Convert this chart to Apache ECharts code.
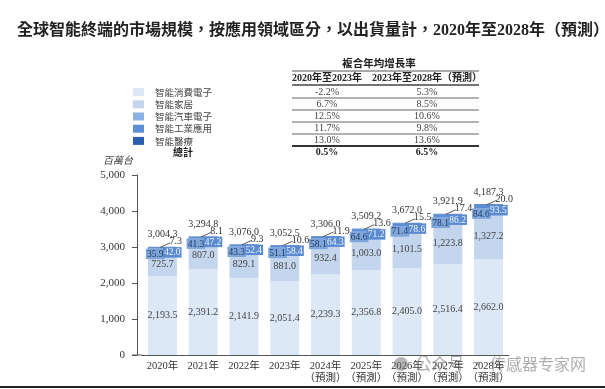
<!DOCTYPE html>
<html>
<head>
<meta charset="utf-8">
<script src="https://cdn.jsdelivr.net/npm/echarts@6/dist/echarts.min.js"></script>
<style>
html,body{margin:0;padding:0;background:#fff;}
#chart{width:605px;height:389px;}
</style>
</head>
<body>
<div id="chart"></div>
<script>
// ---- data ----
const categories = ['2020年','2021年','2022年','2023年','2024年\n（預測）','2025年\n（預測）','2026年\n（預測）','2027年\n（預測）','2028年\n（預測）'];
const seriesNames = ['智能消費電子','智能家居','智能汽車電子','智能工業應用','智能醫療'];
const consumer   = [2193.5, 2391.2, 2141.9, 2051.4, 2239.3, 2356.8, 2405.0, 2516.4, 2662.0];
const home       = [725.7, 807.0, 829.1, 881.0, 932.4, 1003.0, 1101.5, 1223.8, 1327.2];
const auto       = [35.9, 41.3, 43.3, 51.1, 58.1, 64.6, 71.4, 78.1, 84.6];
const industrial = [42.0, 47.2, 52.4, 58.4, 64.3, 71.2, 78.6, 86.2, 93.5];
const medical    = [7.3, 8.1, 9.3, 10.6, 11.9, 13.6, 15.5, 17.4, 20.0];
const totals     = [3004.3, 3294.8, 3076.0, 3052.5, 3306.0, 3509.2, 3672.0, 3921.9, 4187.3];
const cagrA      = ['-2.2%','6.7%','12.5%','11.7%','13.0%'];
const cagrB      = ['5.3%','8.5%','10.6%','9.8%','13.6%'];
const cagrTotalA = '0.5%';
const cagrTotalB = '6.5%';
const yTicks     = [0, 1000, 2000, 3000, 4000, 5000];

// ---- style ----
const colors = ['#dde8f6', '#c3d6ee', '#8cb2e3', '#5b8ed4', '#2c5fb0'];
const NUM = '"Liberation Serif", "Noto Sans CJK TC", serif';
const CJK = '"Noto Sans CJK TC", sans-serif';
const fmt = v => v.toLocaleString('en-US', {minimumFractionDigits: 1, maximumFractionDigits: 1});

const chart = echarts.init(document.getElementById('chart'), null, {renderer: 'canvas'});

// table graphics
const g = [];
function txt(x, y, s, opt) {
  opt = opt || {};
  g.push({type: 'text', x: x, y: y, silent: true, z: opt.z || 1, style: {
    text: s, fill: opt.fill || '#333', font: opt.font || ('10px ' + NUM),
    align: opt.align || 'center', verticalAlign: 'middle',
    textAlign: opt.align || 'center', textVerticalAlign: 'middle'
  }});
}
function hline(x1, x2, y, w, c) {
  g.push({type: 'line', silent: true, shape: {x1: x1, y1: y, x2: x2, y2: y}, style: {stroke: c || '#555', lineWidth: w || 1}});
}
const colA = 327, colB = 427, tx1 = 292, tx2 = 479;
txt(379, 63, '複合年均增長率', {font: 'bold 10.5px ' + CJK, fill: '#222'});
hline(tx1, tx2, 71, 1, '#555');
txt(colA, 78, '2020年至2023年', {font: 'bold 10px ' + NUM, fill: '#222'});
txt(colB, 78, '2023年至2028年（預測）', {font: 'bold 10px ' + NUM, fill: '#222'});
hline(tx1, tx2, 85, 1.5, '#444');
const rowY = [92, 104, 116, 128, 140];
cagrA.forEach((v, i) => {
  txt(colA, rowY[i], v, {font: '10px ' + NUM, fill: '#444'});
  txt(colB, rowY[i], cagrB[i], {font: '10px ' + NUM, fill: '#444'});
  if (i < cagrA.length - 1) hline(tx1, tx2, rowY[i] + 6, 1, '#666');
});
hline(tx1, tx2, 146, 2, '#333');
txt(colA, 152.5, cagrTotalA, {font: 'bold 10px ' + NUM, fill: '#222'});
txt(colB, 152.5, cagrTotalB, {font: 'bold 10px ' + NUM, fill: '#222'});
txt(183, 152, '總計', {font: 'bold 10px ' + CJK, fill: '#222'});
// x-axis extension to the left of the y axis
hline(132, 142, 355, 1, '#555');
// bottom rule
g.push({type: 'rect', silent: true, shape: {x: 0, y: 386, width: 605, height: 2}, style: {fill: '#222'}});
// watermark
g.push({type: 'circle', silent: true, z: 50, shape: {cx: 401, cy: 364, r: 7}, style: {fill: 'rgba(110,110,110,0.5)'}});
txt(415, 364, '公众号', {font: '16.5px ' + CJK, fill: 'rgba(120,120,120,0.6)', align: 'left', z: 50});
txt(478, 364, '·', {font: '16.5px ' + CJK, fill: 'rgba(120,120,120,0.6)', align: 'center', z: 50});
txt(490, 364, '传感器专家网', {font: '16px ' + CJK, fill: 'rgba(120,120,120,0.6)', align: 'left', z: 50});

const barCommon = {type: 'bar', stack: 'total', barWidth: 29};

const option = {
  animation: false,
  backgroundColor: '#fff',
  title: {
    text: '全球智能終端的市場規模，按應用領域區分，以出貨量計，2020年至2028年（預測）',
    left: 12, top: 18,
    textStyle: {fontSize: 16, fontWeight: 'bold', color: '#222', fontFamily: NUM}
  },
  legend: {
    orient: 'vertical', left: 133, top: 86, padding: 0,
    itemWidth: 11, itemHeight: 8, itemGap: 0, icon: 'rect',
    data: seriesNames,
    formatter: name => '{t|' + name + '}',
    textStyle: {fontSize: 9.5, lineHeight: 12.2, color: '#444', fontFamily: CJK,
      rich: {t: {fontSize: 9.5, lineHeight: 12.2, color: '#444', fontFamily: CJK, padding: [0, 0, 0, 6]}}}
  },
  grid: {left: 142, right: 96, top: 175, bottom: 34},
  xAxis: {
    type: 'category', data: categories,
    axisLine: {lineStyle: {color: '#555'}},
    axisTick: {show: false},
    axisLabel: {fontSize: 10.5, lineHeight: 12, color: '#333', fontFamily: NUM, margin: 5, interval: 0}
  },
  yAxis: {
    type: 'value', min: yTicks[0], max: yTicks[yTicks.length - 1], interval: 1000,
    offset: 5,
    name: '百萬台', nameLocation: 'end', nameGap: 10,
    nameTextStyle: {fontSize: 10, fontStyle: 'italic', color: '#444', fontFamily: CJK, align: 'right', padding: [0, 4, 0, 0]},
    axisLine: {show: true, lineStyle: {color: '#555'}},
    axisTick: {show: true, length: 5, lineStyle: {color: '#555'}},
    splitLine: {show: false},
    axisLabel: {fontSize: 11, color: '#333', fontFamily: NUM, margin: 12, formatter: v => v.toLocaleString('en-US')}
  },
  series: [
    Object.assign({}, barCommon, {
      name: seriesNames[0], data: consumer, itemStyle: {color: colors[0]},
      label: {show: true, position: 'inside', fontSize: 10, color: '#444', fontFamily: NUM, formatter: p => fmt(p.value)}
    }),
    Object.assign({}, barCommon, {
      name: seriesNames[1], data: home, itemStyle: {color: colors[1]},
      label: {show: true, position: 'inside', offset: [0, 1], fontSize: 10, color: '#444', fontFamily: NUM, formatter: p => fmt(p.value)}
    }),
    Object.assign({}, barCommon, {
      name: seriesNames[2], data: auto, itemStyle: {color: colors[2]},
      label: {show: true, position: [-2, 0], align: 'left', verticalAlign: 'top', fontSize: 9.5, color: '#1d3556',
        fontFamily: NUM, backgroundColor: '#7fa6da', padding: [1, 1, 0, 1], formatter: p => fmt(p.value)}
    }),
    Object.assign({}, barCommon, {
      name: seriesNames[3], data: industrial, itemStyle: {color: colors[3]},
      label: {show: true, position: [15, 0], align: 'left', verticalAlign: 'top', fontSize: 9.5, color: '#eef4fc',
        fontFamily: NUM, backgroundColor: '#5b8bd0', padding: [1, 1, 0, 1], formatter: p => fmt(p.value)}
    }),
    Object.assign({}, barCommon, {
      name: seriesNames[4], data: medical, itemStyle: {color: colors[4]}
    }),
    {
      type: 'custom', name: 'totals', silent: true, z: 10,
      data: totals.map((t, i) => [i, t, medical[i]]),
      renderItem: function (params, api) {
        const p = api.coord([api.value(0), api.value(1)]);
        return {type: 'group', children: [
          {type: 'line', shape: {x1: p[0] - 2, y1: p[1] + 0.5, x2: p[0] + 8, y2: p[1] - 4}, style: {stroke: '#333', lineWidth: 0.8}},
          {type: 'text', x: p[0] + 7, y: p[1] - 5, style: {text: fmt(api.value(2)), font: '10px ' + NUM, fill: '#333',
            align: 'left', verticalAlign: 'middle', textAlign: 'left', textVerticalAlign: 'middle'}},
          {type: 'text', x: p[0], y: p[1] - 12, style: {text: fmt(api.value(1)), font: '10px ' + NUM, fill: '#333',
            align: 'center', verticalAlign: 'middle', textAlign: 'center', textVerticalAlign: 'middle'}}
        ]};
      }
    }
  ],
  graphic: {elements: g}
};
chart.setOption(option);
</script>
</body>
</html>
